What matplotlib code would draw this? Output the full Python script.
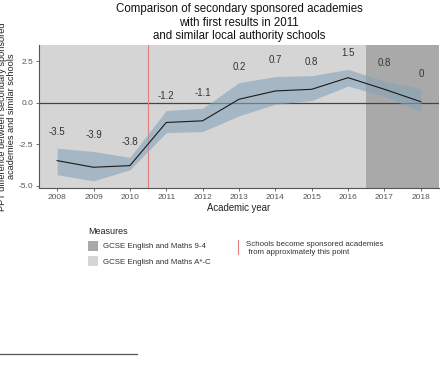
import matplotlib
matplotlib.use("Agg")
import matplotlib.pyplot as plt
from matplotlib.patches import Rectangle
from matplotlib.lines import Line2D

plt.rcParams['font.family'] = ['Liberation Sans', 'DejaVu Sans']

years = [2008, 2009, 2010, 2011, 2012, 2013, 2014, 2015, 2016, 2017, 2018]
values = [-3.5, -3.9, -3.8, -1.2, -1.1, 0.2, 0.7, 0.8, 1.5, 0.8, 0.05]
labels = ["-3.5", "-3.9", "-3.8", "-1.2", "-1.1", "0.2", "0.7", "0.8", "1.5", "0.8", "0"]
upper = [-2.75, -2.95, -3.3, -0.48, -0.34, 1.2, 1.57, 1.62, 2.0, 1.3, 0.82]
lower = [-4.35, -4.72, -4.05, -1.81, -1.75, -0.8, -0.1, 0.12, 1.0, 0.36, -0.54]
label_y = [-1.8, -1.95, -2.35, 0.4, 0.57, 2.17, 2.57, 2.47, 2.97, 2.41, 1.73]
yticks = [-5.0, -2.5, 0.0, 2.5]
ytick_labels = ["-5.0", "-2.5", "0.0", "2.5"]
measures = ["GCSE English and Maths 9-4", "GCSE English and Maths A*-C"]
academy_year = 2010.5
regime_change = 2016.5

fig = plt.figure(figsize=(4.42, 3.73), dpi=100)
ax = fig.add_axes([39/442, 1-188/373, 400/442, 143/373])
x0, x1 = 2007.5, 2018.5
ax.set_xlim(x0, x1)
ax.set_ylim(-5.15, 3.47)

light = '#d5d5d5'
dark = '#a9a9a9'
ax.axvspan(x0, regime_change, color=light, zorder=0, lw=0)
ax.axvspan(regime_change, x1, color=dark, zorder=0, lw=0)
ax.axhline(0, color='#444444', lw=0.9, zorder=1)
ax.axvline(academy_year, color='#e08080', lw=0.8, zorder=1)
ax.fill_between(years, lower, upper, color='#86a3b9', alpha=0.6, lw=0, zorder=2)
ax.plot(years, values, color='#1a1a1a', lw=0.8, zorder=3)
for xv, yv, t in zip(years, label_y, labels):
    ax.text(xv, yv, t, ha='center', va='center', fontsize=7, color='#333333', zorder=4)

ax.set_xticks(years)
ax.set_xticklabels([str(y) for y in years])
ax.set_yticks(yticks)
ax.set_yticklabels(ytick_labels)
ax.tick_params(labelsize=6, colors='#555555', length=2, width=0.6, pad=2)
for s in ['top', 'right']:
    ax.spines[s].set_visible(False)
for s in ['left', 'bottom']:
    ax.spines[s].set_color('#555555')
    ax.spines[s].set_linewidth(0.8)

ax.set_xlabel("Academic year", fontsize=6.9, color='#222222', labelpad=1.5)
ax.set_ylabel("PPT difference between secondary sponsored\nacademies and similar schools",
              fontsize=6.6, color='#222222', labelpad=2, linespacing=0.95)
fig.text(239/442, 1-22.5/373,
         "Comparison of secondary sponsored academies\nwith first results in 2011\nand similar local authority schools",
         ha='center', va='center', fontsize=8.3, color='#111111', linespacing=1.15)

# Legend
fig.text(88/442, 1-232/373, "Measures", fontsize=6.5, color='#222222', va='center', ha='left')
fig.patches.append(Rectangle((88/442, 1-251/373), 10/442, 10/373, transform=fig.transFigure,
                             facecolor=dark, edgecolor='none'))
fig.patches.append(Rectangle((88/442, 1-266/373), 10/442, 10/373, transform=fig.transFigure,
                             facecolor=light, edgecolor='none'))
fig.text(103/442, 1-247/373, measures[0], fontsize=5.7, color='#333333', va='center', ha='left')
fig.text(103/442, 1-262/373, measures[1], fontsize=5.7, color='#333333', va='center', ha='left')
fig.lines.append(Line2D([238/442, 238/442], [1-240/373, 1-254/373], transform=fig.transFigure,
                        color='#e08080', lw=0.8))
fig.text(246/442, 1-244/373, "Schools become sponsored academies", fontsize=5.7, color='#333333',
         va='center', ha='left')
fig.text(246/442, 1-252/373, " from approximately this point", fontsize=5.7, color='#333333',
         va='center', ha='left')

# Footnote rule
fig.lines.append(Line2D([0, 137/442], [1-354/373, 1-354/373], transform=fig.transFigure,
                        color='#555555', lw=0.9))

fig.savefig("out.png", dpi=100)
